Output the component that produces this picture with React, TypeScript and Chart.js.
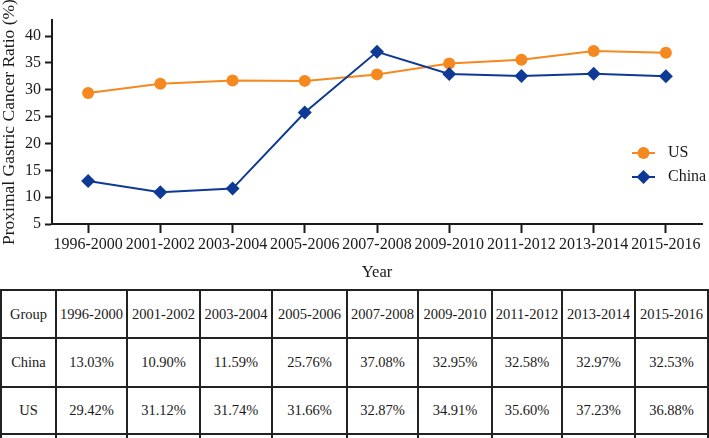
import React, { useEffect, useRef } from 'react';
import { Chart, registerables } from 'chart.js';

Chart.register(...registerables);

const periods = ['1996-2000', '2001-2002', '2003-2004', '2005-2006', '2007-2008', '2009-2010', '2011-2012', '2013-2014', '2015-2016'];
const chinaValues = [13.03, 10.90, 11.59, 25.76, 37.08, 32.95, 32.58, 32.97, 32.53];
const usValues = [29.42, 31.12, 31.74, 31.66, 32.87, 34.91, 35.60, 37.23, 36.88];
const yTicks = [5, 10, 15, 20, 25, 30, 35, 40];
const yMin = 5;
const yMax = 43;

const ORANGE = '#F5891F';
const BLUE = '#0E3A96';
const INK = '#1a1a1a';
const SERIF = '"Liberation Serif", "Times New Roman", serif';

const legendPlugin = {
  id: 'customLegend',
  afterDraw(chart: any) {
    const ctx = chart.ctx;
    const items = [
      { label: 'US', color: ORANGE, style: 'circle', y: 153 },
      { label: 'China', color: BLUE, style: 'diamond', y: 177 },
    ];
    ctx.save();
    items.forEach((it) => {
      ctx.strokeStyle = it.color;
      ctx.fillStyle = it.color;
      ctx.lineWidth = 2;
      ctx.beginPath();
      ctx.moveTo(632, it.y);
      ctx.lineTo(655, it.y);
      ctx.stroke();
      ctx.beginPath();
      if (it.style === 'circle') {
        ctx.arc(643.5, it.y, 6, 0, Math.PI * 2);
      } else {
        ctx.moveTo(643.5 - 7, it.y);
        ctx.lineTo(643.5, it.y - 7);
        ctx.lineTo(643.5 + 7, it.y);
        ctx.lineTo(643.5, it.y + 7);
        ctx.closePath();
      }
      ctx.fill();
      ctx.fillStyle = INK;
      ctx.font = '16px ' + SERIF;
      ctx.textBaseline = 'middle';
      ctx.textAlign = 'left';
      ctx.fillText(it.label, 668, it.y);
    });
    ctx.restore();
  },
};

const colEdges = [1, 56, 127, 200, 272, 347, 418, 492, 562, 635, 708];
const rowEdges = [290, 338, 387, 434, 482];

function DataTable() {
  const header = ['Group', ...periods];
  const rows = [
    header,
    ['China', ...chinaValues.map((v) => v.toFixed(2) + '%')],
    ['US', ...usValues.map((v) => v.toFixed(2) + '%')],
  ];
  const lines: any[] = [];
  colEdges.forEach((x, i) => {
    lines.push(
      <div key={'v' + i} style={{ position: 'absolute', left: x - 1, top: rowEdges[0] - 1, width: 1.6, height: 438 - rowEdges[0] + 1, background: '#222' }} />
    );
  });
  rowEdges.forEach((y, i) => {
    lines.push(
      <div key={'h' + i} style={{ position: 'absolute', left: colEdges[0] - 1, top: y - 1, width: colEdges[colEdges.length - 1] - colEdges[0] + 2, height: 1.6, background: '#222' }} />
    );
  });
  const cells: any[] = [];
  rows.forEach((row, r) => {
    row.forEach((txt, c) => {
      cells.push(
        <div
          key={'c' + r + '-' + c}
          style={{
            position: 'absolute',
            left: colEdges[c],
            top: rowEdges[r],
            width: colEdges[c + 1] - colEdges[c],
            height: rowEdges[r + 1] - rowEdges[r],
            display: 'flex',
            alignItems: 'center',
            justifyContent: 'center',
            fontFamily: SERIF,
            fontSize: 14.5,
            color: INK,
            whiteSpace: 'nowrap',
          }}
        >
          {txt}
        </div>
      );
    });
  });
  return (
    <>
      {lines}
      {cells}
    </>
  );
}

export default function App() {
  const canvasRef = useRef<HTMLCanvasElement | null>(null);

  useEffect(() => {
    const canvas = canvasRef.current;
    if (!canvas) return;
    const chart = new Chart(canvas, {
      type: 'line',
      data: {
        labels: periods,
        datasets: [
          {
            label: 'China',
            data: chinaValues,
            borderColor: BLUE,
            backgroundColor: BLUE,
            borderWidth: 2,
            pointStyle: 'rectRot',
            pointRadius: 7,
            pointBorderWidth: 0,
            pointBackgroundColor: BLUE,
            tension: 0,
          },
          {
            label: 'US',
            data: usValues,
            borderColor: ORANGE,
            backgroundColor: ORANGE,
            borderWidth: 2,
            pointStyle: 'circle',
            pointRadius: 6,
            pointBorderWidth: 0,
            pointBackgroundColor: ORANGE,
            tension: 0,
          },
        ],
      },
      options: {
        responsive: false,
        animation: false,
        devicePixelRatio: 1,
        layout: { padding: { top: 20, right: 1, left: 0, bottom: 0 } },
        plugins: {
          legend: { display: false },
          tooltip: { enabled: false },
        },
        scales: {
          x: {
            offset: true,
            grid: {
              display: true,
              drawOnChartArea: false,
              drawTicks: true,
              tickLength: 9,
              tickWidth: 2,
              tickColor: INK,
              offset: false,
            },
            border: { display: true, color: INK, width: 2 },
            ticks: {
              color: INK,
              font: { family: SERIF, size: 16 },
              padding: 2,
              maxRotation: 0,
              autoSkip: false,
            },
            title: {
              display: true,
              text: 'Year',
              color: INK,
              font: { family: SERIF, size: 16.5 },
              padding: { top: 0, bottom: 5 },
            },
            afterFit: (scale: any) => {
              scale.height = 64;
            },
          },
          y: {
            min: yMin,
            max: yMax,
            grid: {
              display: true,
              drawOnChartArea: false,
              drawTicks: true,
              tickLength: 7,
              tickWidth: 2,
              tickColor: INK,
            },
            border: { display: true, color: INK, width: 2 },
            ticks: {
              color: INK,
              font: { family: SERIF, size: 16 },
              padding: 4,
            },
            afterBuildTicks: (scale: any) => {
              scale.ticks = yTicks.map((v) => ({ value: v }));
            },
            title: {
              display: true,
              text: 'Proximal Gastric Cancer Ratio (%)',
              color: INK,
              font: { family: SERIF, size: 17.5 },
              padding: { top: -1, bottom: 0 },
            },
            afterFit: (scale: any) => {
              scale.width = 52;
            },
          },
        },
      },
      plugins: [legendPlugin],
    });
    return () => chart.destroy();
  }, []);

  return (
    <div style={{ position: 'absolute', left: 0, top: 0, width: 709, height: 438, overflow: 'hidden', background: '#fff' }}>
      <canvas ref={canvasRef} width={709} height={288} style={{ position: 'absolute', left: 0, top: 0, width: 709, height: 288 }} />
      <DataTable />
    </div>
  );
}
